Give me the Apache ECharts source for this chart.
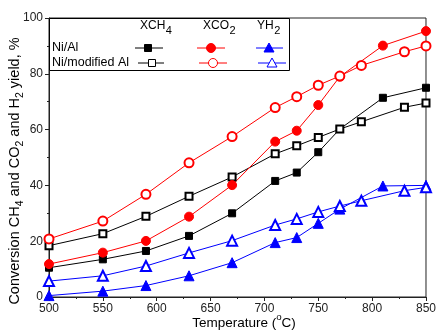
<!DOCTYPE html>
<html><head><meta charset="utf-8">
<script src="https://cdn.jsdelivr.net/npm/echarts@6/dist/echarts.min.js"></script>
<style>html,body{margin:0;padding:0;background:#fff}#c{width:439px;height:334px}</style>
</head><body><div id="c"></div>
<script>
const tempNiAl = [500,550,590,630,670,710,730,750,770,810,850];
const xch4NiAl = [10.5,13.5,16.5,21.9,30.0,41.6,44.6,51.9,60.2,71.4,75.0];
const xco2NiAl = [11.8,15.9,20.1,28.8,40.1,55.7,59.6,68.8,79.0,90.1,95.3];
const yh2NiAl  = [0.5,2.1,4.1,7.6,12.3,19.5,21.3,26.4,31.5,39.8,40.0];

const tempMod = [500,550,590,630,670,710,730,750,770,790,830,850];
const xch4Mod = [18.4,22.7,28.9,36.1,43.0,51.3,54.2,57.2,60.2,62.8,68.0,69.5];
const xco2Mod = [20.8,27.2,36.8,48.1,57.5,67.9,71.8,75.9,79.2,83.0,87.9,90.0];
const yh2Mod  = [5.7,7.6,11.1,15.8,20.2,25.8,28.0,30.5,32.6,34.5,38.1,39.3];

const xTicks = [500,550,600,650,700,750,800,850];
const yTicks = [0,20,40,60,80,100];

const FAM = '"Liberation Sans", Arial, sans-serif';
const pair = (xs, ys) => xs.map((x, i) => [x, ys[i]]);

function mk(name, xs, ys, color, symbol, size) {
  return {
    name, type: 'line', data: pair(xs, ys), symbol, symbolSize: size,
    lineStyle: {color, width: 1}, itemStyle: {color, borderColor: color, borderWidth: 1},
    emphasis: {disabled: true}, animation: false, clip: false, z: 3
  };
}

// measured text runs with sub/superscripts
const mctx = document.createElement('canvas').getContext('2d');
function runGroup(parts, size, x, y, rotation, align) {
  // parts: [text, kind] kind: 'n' | 's' | 'u'
  const items = [];
  let w = 0;
  parts.forEach(([t, k]) => {
    const fs = k === 'n' ? size : size * 0.72;
    const font = fs + 'px ' + FAM;
    mctx.font = font;
    const tw = mctx.measureText(t).width;
    items.push({t, k, font, x: w, fs});
    w += tw;
  });
  const start = align === 'left' ? 0 : -w / 2;
  const children = items.map(it => ({
    type: 'text', x: start + it.x,
    y: it.k === 'n' ? 0 : (it.k === 's' ? size * 0.33 : -size * 0.42),
    style: {text: it.t, font: it.font, fill: '#000', verticalAlign: 'middle', align: 'left'}
  }));
  return {type: 'group', x, y, rotation: rotation || 0, z: 12, children};
}

const chart = echarts.init(document.getElementById('c'), null, {renderer: 'canvas'});
const axisColor = '#222';

const leg = [];
function legLine(x1, x2, y, color) {
  leg.push({type: 'line', shape: {x1, y1: y, x2, y2: y}, style: {stroke: color, lineWidth: 1}, z: 10});
}
function legSq(cx, cy, color, filled) {
  leg.push({type: 'rect', shape: {x: cx - 3.5, y: cy - 3.5, width: 7, height: 7},
    style: {fill: filled ? color : '#fff', stroke: color, lineWidth: 1}, z: 11});
}
function legCirc(cx, cy, color, filled) {
  leg.push({type: 'circle', shape: {cx, cy, r: 4.5}, style: {fill: filled ? color : '#fff', stroke: color, lineWidth: 1}, z: 11});
}
function legTri(cx, cy, color, filled) {
  leg.push({type: 'polygon', shape: {points: [[cx, cy - 5], [cx + 5, cy + 4], [cx - 5, cy + 4]]},
    style: {fill: filled ? color : '#fff', stroke: color, lineWidth: 1}, z: 11});
}
// legend box
leg.push({type: 'rect', shape: {x: 49.5, y: 18.5, width: 240, height: 52}, style: {fill: '#fff', stroke: '#000', lineWidth: 1}, z: 9});
const r1 = 48, r2 = 63;
legLine(135, 163, r1, '#000'); legSq(148, r1, '#000', true);
legLine(197, 225, r1, '#ff0000'); legCirc(211, r1, '#ff0000', true);
legLine(256, 283, r1, '#0000ff'); legTri(269, r1, '#0000ff', true);
legLine(138, 164, r2, '#000'); legSq(152, r2, '#000', false);
legLine(199, 227, r2, '#ff0000'); legCirc(213, r2, '#ff0000', false);
legLine(258, 286, r2, '#0000ff'); legTri(272, r2, '#0000ff', false);
const txt = (x, y, text) => leg.push({type: 'text', x, y, z: 12,
  style: {text, font: '12.5px ' + FAM, fill: '#000', verticalAlign: 'middle'}});
txt(52, r1, 'Ni/Al');
txt(52, r2, 'Ni/modified Al');

function hdr(x, main, sub) {
  mctx.font = '12px ' + FAM;
  const w = mctx.measureText(main).width;
  leg.push({type: 'text', x, y: 26, z: 12, style: {text: main, font: '12px ' + FAM, fill: '#000', verticalAlign: 'middle'}});
  leg.push({type: 'text', x: x + w + 0.5, y: 31, z: 12, style: {text: sub, font: '11px ' + FAM, fill: '#000', verticalAlign: 'middle'}});
}
hdr(140, 'XCH', '4');
hdr(203, 'XCO', '2');
hdr(257, 'YH', '2');

leg.push(runGroup([['Conversion CH','n'],['4','s'],[' and CO','n'],['2','s'],[' and H','n'],['2','s'],[' yield, %','n']],
  14.5, 15, 171, Math.PI / 2));
leg.push(runGroup([['Temperature (','n'],['o','u'],['C)','n']], 13.5, 244, 323, 0));

chart.setOption({
  animation: false,
  backgroundColor: '#fff',
  grid: {left: 49, right: 9, top: 18, bottom: 37, show: true, borderColor: axisColor, borderWidth: 1, containLabel: false},
  xAxis: {
    type: 'value', min: xTicks[0], max: xTicks[xTicks.length - 1], interval: 50,
    axisLine: {show: true, lineStyle: {color: axisColor, width: 1}},
    axisTick: {show: true, length: 4, lineStyle: {color: axisColor}},
    minorTick: {show: true, splitNumber: 2, length: 2, lineStyle: {color: axisColor}},
    axisLabel: {color: '#222', fontSize: 12, fontFamily: FAM, margin: 6},
    splitLine: {show: false}
  },
  yAxis: {
    type: 'value', min: yTicks[0], max: yTicks[yTicks.length - 1], interval: 20,
    axisLine: {show: true, lineStyle: {color: axisColor, width: 1}},
    axisTick: {show: true, length: 4, lineStyle: {color: axisColor}},
    minorTick: {show: true, splitNumber: 2, length: 2, lineStyle: {color: axisColor}},
    axisLabel: {color: '#222', fontSize: 12, fontFamily: FAM, margin: 6},
    splitLine: {show: false}
  },
  series: [
    mk('XCH4 Ni/Al', tempNiAl, xch4NiAl, '#000000', 'rect', 7),
    mk('XCH4 Ni/modified Al', tempMod, xch4Mod, '#000000', 'emptyRect', 7),
    mk('XCO2 Ni/Al', tempNiAl, xco2NiAl, '#ff0000', 'circle', 9),
    mk('XCO2 Ni/modified Al', tempMod, xco2Mod, '#ff0000', 'emptyCircle', 9),
    mk('YH2 Ni/Al', tempNiAl, yh2NiAl, '#0000ff', 'triangle', 10),
    mk('YH2 Ni/modified Al', tempMod, yh2Mod, '#0000ff', 'emptyTriangle', 10)
  ],
  graphic: leg
});
</script></body></html>
